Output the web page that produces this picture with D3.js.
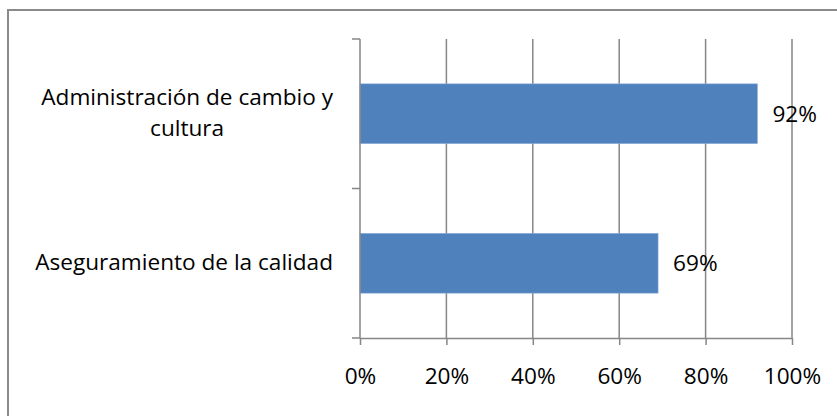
<!DOCTYPE html>
<html><head><meta charset="utf-8">
<script src="https://cdn.jsdelivr.net/npm/d3@7"></script>
<style>body{margin:0;background:#fff}svg{display:block}</style>
</head><body>
<svg id="c" width="837" height="416"></svg>
<script>
const categories = ["Administración de cambio y cultura", "Aseguramiento de la calidad"];
const categoryLines = [["Administración de cambio y", "cultura"], ["Aseguramiento de la calidad"]];
const values = [0.92, 0.69];
const tickValues = [0, 0.2, 0.4, 0.6, 0.8, 1.0];

const svg = d3.select("#c");
const FONT = "Open Sans";
const FS = 22.6;
const x0 = 360, x1 = 792, yTop = 39, yBot = 338;
const x = d3.scaleLinear().domain([0, 1]).range([x0, x1]);
const y = d3.scaleBand().domain(categories).range([yTop, yBot]).paddingInner(0.6).paddingOuter(0.3);
const grid = "#868686";

// outer border (right/bottom edges outside view)
svg.append("rect").attr("x", 8).attr("y", 10).attr("width", 900).attr("height", 500)
  .attr("fill", "none").attr("stroke", "#8a8a8a").attr("stroke-width", 2);

// gridlines
svg.append("g").selectAll("line").data(tickValues.slice(1)).join("line")
  .attr("x1", d => x(d)).attr("x2", d => x(d)).attr("y1", yTop).attr("y2", yBot)
  .attr("stroke", grid).attr("stroke-width", 1.5);

// bars
svg.append("g").selectAll("rect").data(values).join("rect")
  .attr("x", x(0)).attr("y", (d, i) => y(categories[i]))
  .attr("width", d => x(d) - x(0)).attr("height", y.bandwidth())
  .attr("fill", "#4F81BD").attr("stroke", "#8eaedb").attr("stroke-width", 0.6);

// x axis
const xa = svg.append("g").attr("transform", `translate(0,${yBot})`)
  .call(d3.axisBottom(x).tickValues(tickValues).tickFormat(d3.format(".0%")).tickSizeInner(7).tickSizeOuter(0).tickPadding(23));
xa.select(".domain").attr("stroke", grid).attr("stroke-width", 1.5);
xa.selectAll(".tick line").attr("stroke", grid).attr("stroke-width", 1.5);
xa.selectAll("text").attr("font-family", FONT).attr("font-size", FS).attr("fill", "#000");

// y axis: line with ticks at band boundaries
const ya = svg.append("g");
ya.append("line").attr("x1", x0).attr("x2", x0).attr("y1", yTop).attr("y2", yBot)
  .attr("stroke", grid).attr("stroke-width", 1.5);
const bounds = [yTop, (yTop + yBot) / 2, yBot];
ya.selectAll(".yt").data(bounds).join("line").attr("class", "yt")
  .attr("x1", x0 - 8).attr("x2", x0).attr("y1", d => d).attr("y2", d => d)
  .attr("stroke", grid).attr("stroke-width", 1.5);

// category labels
const labelRight = 333;
categories.forEach((c, i) => {
  const lines = categoryLines[i];
  const g = svg.append("g");
  const cy = y(c) + y.bandwidth() / 2;
  const lh = 31;
  const t = g.append("text").attr("font-family", FONT).attr("font-size", FS).attr("fill", "#000").attr("text-anchor", "middle");
  lines.forEach((l, j) => {
    t.append("tspan").attr("x", 0).attr("y", cy + 7 - (lines.length - 1) * lh / 2 + j * lh).text(l);
  });
  let maxW = 0;
  t.selectAll("tspan").each(function(){ maxW = Math.max(maxW, this.getComputedTextLength()); });
  t.selectAll("tspan").attr("x", labelRight - maxW / 2);
});

// value labels
svg.append("g").selectAll("text").data(values).join("text")
  .attr("x", d => x(d) + 15).attr("y", (d, i) => y(categories[i]) + y.bandwidth() / 2 + 8)
  .attr("font-family", FONT).attr("font-size", FS).attr("fill", "#000")
  .text(d => d3.format(".0%")(d));
</script>
</body></html>
